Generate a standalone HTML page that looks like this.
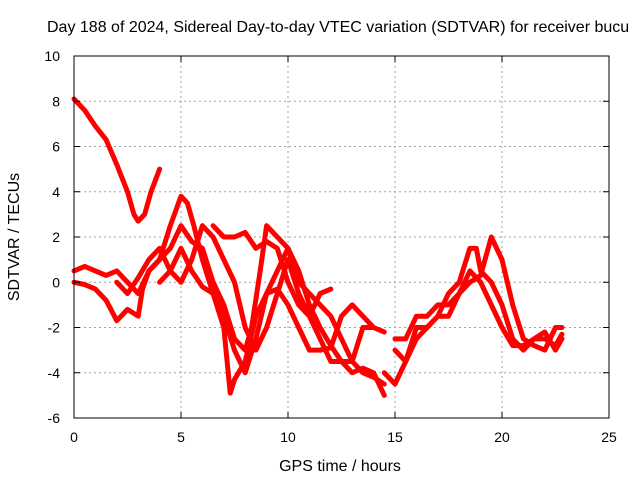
<!DOCTYPE html>
<html><head><meta charset="utf-8"><style>
html,body{margin:0;padding:0;background:#fff;width:640px;height:480px;overflow:hidden}
svg text{font-family:"Liberation Sans",sans-serif;font-size:14px;fill:#000}
svg text.big{font-size:16px}
</style></head><body>
<svg id="chart" width="640" height="480">
<text class="big" x="47" y="32">Day 188 of 2024, Sidereal Day-to-day VTEC variation (SDTVAR) for receiver bucu</text>
<g id="grid"></g>
<g id="series"></g>
<rect x="74" y="56" width="535" height="362" fill="none" stroke="#000" stroke-width="1"/>
<g id="ticks"></g>
<text class="big" x="340" y="471" text-anchor="middle">GPS time / hours</text>
<text class="big" transform="translate(19,237) rotate(-90)" text-anchor="middle">SDTVAR / TECUs</text>
</svg>
<script>
const xTicks=[0,5,10,15,20,25];
const yTicks=[-6,-4,-2,0,2,4,6,8,10];
const traceA=[[0,8.1],[0.5,7.6],[1,6.9],[1.5,6.3],[2,5.2],[2.5,4],[2.8,3],[3,2.7],[3.3,3],[3.6,4],[4,5]];
const traceB=[[0,0.5],[0.5,0.7],[1,0.5],[1.5,0.3],[2,0.5],[2.5,0],[3,-0.5],[3.5,0.5],[4,1],[4.5,2.5],[5,3.8],[5.3,3.5],[5.6,2.5],[6,1],[6.5,-0.5],[7,-1.5],[7.5,-3],[8,-4],[8.5,-2.5],[9,-0.5],[9.5,0.5],[10,1.5],[10.5,0.5],[11,-1],[11.5,-2],[12,-2.8],[12.5,-3.5],[13,-4],[13.5,-3.8],[14,-4],[14.5,-5]];
const traceC=[[0,0],[0.5,-0.1],[1,-0.3],[1.5,-0.8],[2,-1.7],[2.5,-1.2],[3,-1.5],[3.2,-0.3],[3.5,0.5],[4,1],[4.5,1.5],[5,2.5],[5.5,1.8],[6,1.5],[6.5,0],[7,-1],[7.5,-2.5],[8,-3],[8.3,-2],[8.7,0.5],[9,2.5],[9.5,2],[10,1.5],[10.5,0],[11,-0.5],[11.5,-1],[12,-1.5],[12.5,-2.5],[13,-3.5],[13.5,-4],[14,-4.2],[14.5,-4.5]];
const traceD=[[2,0],[2.5,-0.5],[3,0.2],[3.5,1],[4,1.5],[4.5,0.5],[5,0],[5.5,1],[6,2.5],[6.5,2],[7,1],[7.5,0],[8,-2],[8.5,-3],[9,-2],[9.5,-0.5],[10,1],[10.5,-0.5],[11,-1.5],[11.5,-2.5],[12,-3.5],[12.5,-3.5],[13,-3.5],[13.5,-2],[14,-2],[14.5,-2.2]];
const traceE=[[4,0],[4.5,0.5],[5,1.5],[5.5,0.5],[6,-0.2],[6.5,-0.5],[7,-2],[7.3,-4.9],[7.5,-4.3],[8,-3.5],[8.5,-1.5],[9,-0.5],[9.5,-0.3],[10,-1],[10.5,-2],[11,-3],[11.5,-3],[12,-2.9],[12.5,-1.5],[13,-1],[13.5,-1.5],[14,-2]];
const traceF=[[6.5,2.5],[7,2],[7.5,2],[8,2.2],[8.5,1.5],[9,1.8],[9.5,1.5],[10,0],[10.5,-1],[11,-1.5],[11.5,-0.5],[12,-0.3]];
const traceG=[[14.5,-4],[15,-4.5],[15.5,-3.5],[16,-2],[16.5,-2],[17,-1.5],[17.5,-0.5],[18,0],[18.5,1.5],[18.8,1.5],[19,0.5],[19.5,0],[20,-1],[20.5,-2.5],[21,-3],[21.5,-2.5],[22,-2.5],[22.5,-2.8],[22.8,-2.3]];
const traceH=[[15,-2.5],[15.5,-2.5],[16,-1.5],[16.5,-1.5],[17,-1],[17.5,-1],[18,-0.5],[18.5,0],[19,0.3],[19.5,2],[20,1],[20.5,-1],[21,-2.5],[21.5,-2.8],[22,-3],[22.5,-2],[22.8,-2]];
const traceI=[[15,-3],[15.5,-3.5],[16,-2.5],[16.5,-2],[17,-1.5],[17.5,-1.5],[18,-0.5],[18.5,0.5],[19,0],[19.5,-1],[20,-2],[20.5,-2.8],[21,-2.8],[21.5,-2.5],[22,-2.2],[22.5,-3],[22.8,-2.5]];
const traces=[traceA,traceB,traceC,traceD,traceE,traceF,traceG,traceH,traceI];

const NS="http://www.w3.org/2000/svg";
const X0=74,X1=609,Y0=418,Y1=56;
const sx=v=>X0+(v-0)/(25-0)*(X1-X0);
const sy=v=>Y0-(v-(-6))/(10-(-6))*(Y0-Y1);
function mk(tag,at,parent){const e=document.createElementNS(NS,tag);for(const k in at)e.setAttribute(k,at[k]);parent.appendChild(e);return e;}
const grid=document.getElementById('grid'),ticks=document.getElementById('ticks'),series=document.getElementById('series');
xTicks.forEach(t=>{
  const x=sx(t);
  if(t>0&&t<25){const g=mk('line',{x1:x,x2:x,y1:Y1,y2:Y0,stroke:'#a0a0a0','stroke-dasharray':'2,3'},grid);
  
  }
  mk('line',{x1:x,x2:x,y1:Y0,y2:Y0-6,stroke:'#000'},ticks);
  mk('line',{x1:x,x2:x,y1:Y1,y2:Y1+6,stroke:'#000'},ticks);
  const l=mk('text',{x:x,y:Y0+24,'text-anchor':'middle'},ticks);l.textContent=t;
  
  
});
yTicks.forEach(t=>{
  const y=sy(t);
  if(t>-6&&t<10){const g=mk('line',{x1:X0,x2:X1,y1:y,y2:y,stroke:'#a0a0a0','stroke-dasharray':'2,3'},grid);
  
  }
  mk('line',{x1:X0,x2:X0+6,y1:y,y2:y,stroke:'#000'},ticks);
  mk('line',{x1:X1,x2:X1-6,y1:y,y2:y,stroke:'#000'},ticks);
  const l=mk('text',{x:X0-14,y:y+5,'text-anchor':'end'},ticks);l.textContent=t;
  
  
});
traces.forEach((tr,i)=>{
  const p=mk('polyline',{points:tr.map(d=>sx(d[0])+','+sy(d[1])).join(' '),fill:'none',stroke:'#ff0000','stroke-width':5,'stroke-linejoin':'round','stroke-linecap':'round'},series);
  
  
});
</script>
</body></html>
